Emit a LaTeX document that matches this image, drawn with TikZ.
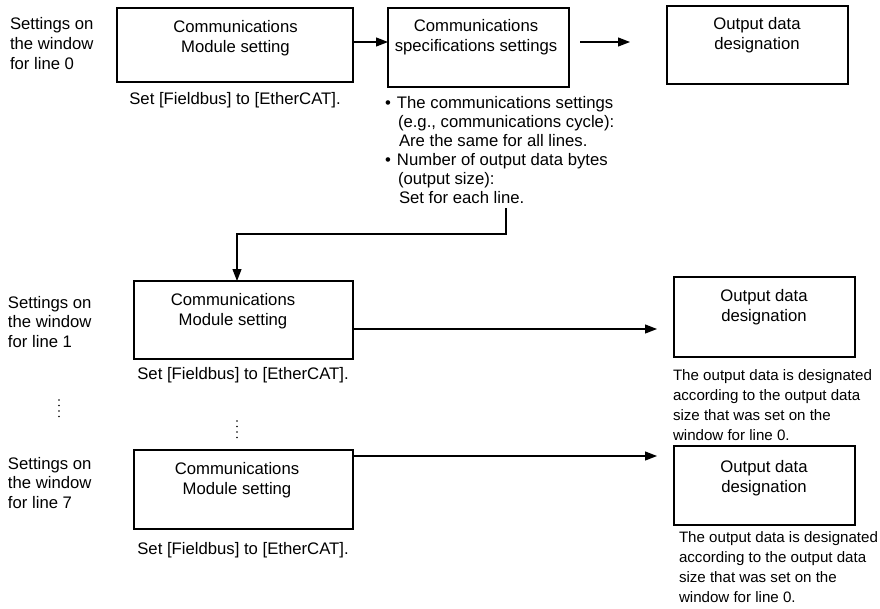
\documentclass[tikz,border=0pt]{standalone}
\usepackage{fontspec}
\setmainfont{Liberation Sans}
\usetikzlibrary{arrows.meta,calc}
\begin{document}
\begin{tikzpicture}[x=1pt,y=-1pt,
  every node/.style={font=\fontsize{16.7}{19.8}\selectfont, inner sep=0pt, outer sep=0pt},
  box/.style={draw, line width=1.1pt},
  txt/.style={align=center},
  lft/.style={align=left, anchor=west},
  note/.style={align=left, anchor=west, font=\fontsize{15.1}{20}\selectfont},
  conn/.style={line width=1.2pt, -{Triangle[length=12pt,width=9pt]}}]
\useasboundingbox (0,0) rectangle (880,608);

% boxes
\node[box, minimum width=236, minimum height=74] (b1) at (235,45) {};
\node[box, minimum width=181, minimum height=79] (b2) at (478.5,47.5) {};
\node[box, minimum width=181, minimum height=78] (b3) at (757.5,45) {};
\node[box, minimum width=219, minimum height=78] (b4) at (243.5,320) {};
\node[box, minimum width=181, minimum height=80] (b5) at (764.5,317) {};
\node[box, minimum width=219, minimum height=79] (b7) at (243.5,489.5) {};
\node[box, minimum width=181, minimum height=79] (b6) at (764.5,485.5) {};

% box texts
\node[txt] (t1) at (235.5,38) {Communications\\Module setting};
\node[txt] (t2) at (476,37.5) {Communications\\specifications settings};
\node[txt] (t3) at (757,35.5) {Output data\\designation};
\node[txt] (t4) at (233,311) {Communications\\Module setting};
\node[txt] (t5) at (764,307) {Output data\\designation};
\node[txt] (t7) at (237,480) {Communications\\Module setting};
\node[txt] (t6) at (764,478) {Output data\\designation};

% left labels
\node[lft] (l0) at (10,43.5) {Settings on\\the window\\for line 0};
\node[lft] (l1) at (8,322) {Settings on\\the window\\for line 1};
\node[lft] (l7) at (8,483) {Settings on\\the window\\for line 7};

% set labels
\node (s1) at (235,100) {Set [Fieldbus] to [EtherCAT].};
\node (s4) at (243,375) {Set [Fieldbus] to [EtherCAT].};
\node (s7) at (243,550) {Set [Fieldbus] to [EtherCAT].};

% bullet notes
\node[lft, font=\fontsize{16.7}{19}\selectfont] (bn) at (385,150) {%
\makebox[12pt][l]{•}The communications settings\\
\hspace*{13pt}(e.g., communications cycle):\\
\hspace*{14pt}Are the same for all lines.\\
\makebox[12pt][l]{•}Number of output data bytes\\
\hspace*{13pt}(output size):\\
\hspace*{14pt}Set for each line.};

% output notes
\node[note] (n5) at (673,405) {The output data is designated\\according to the output data\\size that was set on the\\window for line 0.};
\node[note] (n6) at (679,567) {The output data is designated\\according to the output data\\size that was set on the\\window for line 0.};

% connector coordinates
\coordinate (a0) at (353,42);
\coordinate (a1s) at (580,42);
\coordinate (a1e) at (630,42);
\coordinate (c0) at (506,208);
\coordinate (c1) at (506,234);
\coordinate (c2) at (237,234);
\coordinate (a4s) at (353,329);
\coordinate (a4e) at (657,329);
\coordinate (a7s) at (353,456);
\coordinate (a7e) at (657,456);

% connectors
\draw[conn] (a0) -- (a0 -| b2.west);
\draw[conn] (a1s) -- (a1e);
\draw[conn] (c0) -- (c1) -- (c2) -- (c2 |- b4.north);
\draw[conn] (a4s) -- (a4e);
\draw[conn] (a7s) -- (a7e);

% vertical dots
\foreach \i in {0,1,2,3} {
  \fill (59,400+5.5*\i) circle (0.9);
  \fill (237,421+5.5*\i) circle (0.9);
}
\end{tikzpicture}
\end{document}
